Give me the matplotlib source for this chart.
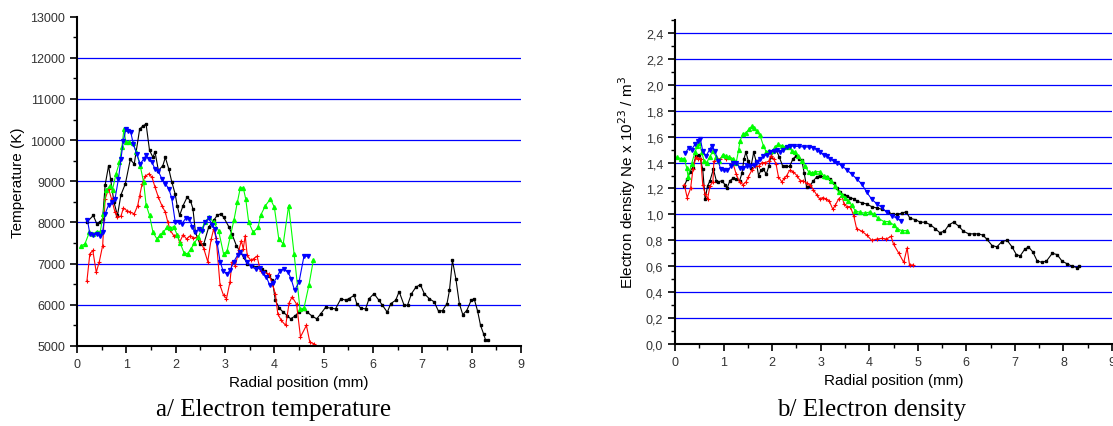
import numpy as np
import matplotlib
matplotlib.use('Agg')
import matplotlib.pyplot as plt
from matplotlib.ticker import MultipleLocator, FuncFormatter

plt.rcParams['font.family'] = ['Liberation Sans', 'DejaVu Sans']

# ---- a/ electron temperature (K) vs radial position (mm)
t_black_x = [0.21, 0.33, 0.40, 0.47, 0.52, 0.57, 0.64, 0.68, 0.75, 0.82, 0.89, 0.98, 1.08, 1.16, 1.27, 1.34, 1.40, 1.47, 1.54, 1.58,
             1.65, 1.74, 1.79, 1.86, 1.92, 1.99, 2.03, 2.08, 2.15, 2.23, 2.30, 2.35, 2.40, 2.49, 2.57, 2.67, 2.77, 2.84, 2.91, 2.97,
             3.08, 3.14, 3.23, 3.31, 3.38, 3.45, 3.55, 3.65, 3.75, 3.82, 3.89, 3.96, 4.02, 4.10, 4.18, 4.26, 4.33, 4.41, 4.50, 4.60,
             4.67, 4.77, 4.86, 4.94, 5.04, 5.14, 5.24, 5.35, 5.45, 5.51, 5.62, 5.67, 5.75, 5.85, 5.92, 6.02, 6.12, 6.19, 6.29, 6.36,
             6.46, 6.53, 6.63, 6.70, 6.78, 6.87, 6.96, 7.04, 7.14, 7.24, 7.33, 7.41, 7.50, 7.55, 7.61, 7.68, 7.75, 7.82, 7.90, 7.99,
             8.05, 8.12, 8.18, 8.24, 8.28, 8.33]
t_black_y = [8020, 8170, 7970, 8020, 8090, 8910, 9380, 9060, 8490, 8170, 8670, 8940, 9530, 9420, 10270, 10350, 10390, 9750, 9580, 9720,
             9260, 9380, 9580, 9300, 8990, 8690, 8410, 8170, 8410, 8610, 8530, 8330, 7760, 7480, 7480, 7890, 8050, 8170, 8210, 8130,
             7890, 7720, 7440, 7280, 7150, 7000, 6950, 6920, 6860, 6810, 6700, 6600, 6110, 5920, 5820, 5740, 5660, 5720, 5830, 5910,
             5820, 5720, 5660, 5780, 5940, 5920, 5900, 6150, 6110, 6150, 6230, 6030, 5920, 5900, 6150, 6270, 6110, 5990, 5820, 6030,
             6110, 6320, 5990, 5990, 6270, 6430, 6490, 6270, 6150, 6070, 5840, 5860, 6030, 6350, 7080, 6630, 6030, 5760, 5860, 6110,
             6150, 5850, 5500, 5300, 5150, 5150]

t_red_x = [0.20, 0.26, 0.32, 0.39, 0.45, 0.52, 0.57, 0.64, 0.70, 0.77, 0.82, 0.89, 0.94, 1.01, 1.08, 1.16, 1.23, 1.27, 1.32, 1.38,
           1.45, 1.52, 1.58, 1.65, 1.72, 1.79, 1.84, 1.89, 1.96, 2.03, 2.08, 2.15, 2.22, 2.30, 2.36, 2.43, 2.50, 2.57, 2.65, 2.72,
           2.77, 2.82, 2.90, 2.97, 3.03, 3.10, 3.14, 3.21, 3.28, 3.33, 3.37, 3.41, 3.45, 3.52, 3.58, 3.65, 3.72, 3.80, 3.89, 3.96,
           4.02, 4.07, 4.14, 4.23, 4.30, 4.36, 4.45, 4.53, 4.65, 4.72, 4.81]
t_red_y = [6570, 7240, 7320, 6790, 7040, 7440, 8570, 8820, 8570, 8250, 8130, 8150, 8350, 8290, 8250, 8210, 8410, 8650, 8940, 9120,
           9180, 9100, 8860, 8610, 8410, 8250, 8010, 7810, 7680, 7700, 7520, 7700, 7600, 7680, 7620, 7640, 7560, 7360, 7050, 7600,
           7840, 7620, 6470, 6230, 6150, 6550, 7040, 6950, 7320, 7560, 7360, 7680, 7200, 7080, 7120, 7180, 6810, 6790, 6750, 6510,
           6270, 5780, 5620, 5500, 6050, 6190, 6020, 5220, 5500, 5090, 5050]

t_green_x = [0.08, 0.16, 0.25, 0.33, 0.40, 0.47, 0.53, 0.59, 0.66, 0.72, 0.79, 0.86, 0.91, 0.95, 0.99, 1.06, 1.13, 1.20, 1.28, 1.35,
             1.40, 1.47, 1.54, 1.62, 1.69, 1.75, 1.82, 1.89, 1.96, 2.03, 2.09, 2.17, 2.24, 2.31, 2.38, 2.46, 2.53, 2.60, 2.67, 2.77,
             2.87, 2.97, 3.04, 3.11, 3.18, 3.25, 3.31, 3.37, 3.42, 3.48, 3.57, 3.67, 3.72, 3.82, 3.92, 4.00, 4.09, 4.18, 4.29, 4.40,
             4.52, 4.60, 4.70, 4.79]
t_green_y = [7430, 7480, 7760, 7720, 7780, 7760, 8210, 8780, 8880, 8800, 9180, 9460, 9830, 10260, 9950, 9950, 9930, 9710, 9380, 8980,
             8430, 8170, 7760, 7600, 7700, 7760, 7880, 7860, 7900, 7700, 7500, 7260, 7240, 7360, 7500, 7650, 7850, 8010, 8130, 8010,
             7800, 7240, 7300, 7680, 8050, 8490, 8840, 8840, 8570, 8010, 7760, 7880, 8170, 8410, 8570, 8370, 7600, 7480, 8410, 7240,
             5900, 5920, 6470, 7080]

t_blue_x = [0.21, 0.26, 0.33, 0.40, 0.47, 0.52, 0.57, 0.64, 0.70, 0.77, 0.84, 0.89, 0.94, 0.99, 1.04, 1.09, 1.14, 1.21, 1.28, 1.35,
            1.40, 1.45, 1.52, 1.58, 1.65, 1.72, 1.79, 1.86, 1.92, 1.99, 2.06, 2.13, 2.20, 2.27, 2.34, 2.40, 2.47, 2.54, 2.60, 2.67,
            2.74, 2.79, 2.84, 2.90, 2.96, 3.04, 3.11, 3.18, 3.26, 3.31, 3.38, 3.45, 3.52, 3.62, 3.70, 3.77, 3.84, 3.91, 3.98, 4.05,
            4.11, 4.19, 4.28, 4.34, 4.41, 4.50, 4.60, 4.68]
t_blue_y = [8070, 7720, 7700, 7720, 7680, 7780, 8210, 8430, 8490, 8570, 9060, 9540, 9990, 10260, 10230, 10190, 9910, 9670, 9420, 9540,
            9630, 9540, 9460, 9300, 9240, 9060, 8940, 8820, 8590, 8020, 8010, 7970, 8100, 8090, 7890, 7760, 7850, 7800, 8020, 8100,
            7950, 7850, 7500, 7050, 6830, 6750, 6850, 7050, 7220, 7290, 7180, 7040, 6940, 6870, 6890, 6780, 6670, 6470, 6530, 6670,
            6810, 6870, 6790, 6630, 6350, 6550, 7180, 7180]

# ---- b/ electron density (x 10^23 m^-3) vs radial position (mm)
n_black_x = [0.19, 0.25, 0.31, 0.36, 0.43, 0.50, 0.57, 0.62, 0.67, 0.72, 0.79, 0.85, 0.89, 0.96, 1.03, 1.07, 1.13, 1.20, 1.26, 1.33,
             1.38, 1.42, 1.46, 1.51, 1.56, 1.62, 1.67, 1.72, 1.77, 1.82, 1.88, 1.93, 1.97, 2.03, 2.08, 2.15, 2.22, 2.29, 2.36, 2.43,
             2.49, 2.56, 2.61, 2.66, 2.71, 2.78, 2.85, 2.92, 2.99, 3.06, 3.13, 3.20, 3.27, 3.33, 3.40, 3.47, 3.54, 3.61, 3.68, 3.75,
             3.85, 3.95, 4.05, 4.15, 4.26, 4.38, 4.49, 4.57, 4.67, 4.76, 4.84, 4.95, 5.05, 5.15, 5.26, 5.36, 5.45, 5.55, 5.64, 5.74,
             5.84, 5.94, 6.05, 6.15, 6.25, 6.34, 6.42, 6.53, 6.63, 6.73, 6.84, 6.94, 7.03, 7.11, 7.20, 7.28, 7.37, 7.46, 7.56, 7.65,
             7.77, 7.87, 7.97, 8.07, 8.18, 8.28, 8.33]
n_black_y = [1.22, 1.27, 1.33, 1.36, 1.45, 1.46, 1.35, 1.12, 1.22, 1.26, 1.35, 1.26, 1.25, 1.26, 1.23, 1.20, 1.26, 1.28, 1.27, 1.26,
             1.32, 1.43, 1.48, 1.41, 1.36, 1.48, 1.41, 1.30, 1.34, 1.35, 1.31, 1.37, 1.44, 1.49, 1.50, 1.44, 1.37, 1.37, 1.37, 1.43,
             1.45, 1.43, 1.42, 1.32, 1.21, 1.22, 1.26, 1.29, 1.30, 1.29, 1.29, 1.27, 1.24, 1.20, 1.17, 1.15, 1.14, 1.13, 1.12, 1.10,
             1.09, 1.08, 1.06, 1.05, 1.04, 1.02, 1.00, 1.00, 1.01, 1.02, 0.97, 0.96, 0.94, 0.94, 0.92, 0.89, 0.86, 0.87, 0.92, 0.94,
             0.91, 0.87, 0.85, 0.85, 0.85, 0.84, 0.81, 0.76, 0.75, 0.79, 0.80, 0.75, 0.69, 0.68, 0.73, 0.75, 0.71, 0.64, 0.63, 0.64,
             0.70, 0.69, 0.64, 0.62, 0.60, 0.59, 0.60]

n_red_x = [0.19, 0.25, 0.32, 0.37, 0.43, 0.48, 0.53, 0.57, 0.62, 0.67, 0.72, 0.78, 0.80, 0.86, 0.93, 1.00, 1.05, 1.12, 1.19, 1.26,
           1.33, 1.40, 1.46, 1.51, 1.58, 1.65, 1.72, 1.79, 1.86, 1.93, 1.97, 2.03, 2.08, 2.13, 2.20, 2.25, 2.30, 2.36, 2.43, 2.51,
           2.58, 2.64, 2.71, 2.78, 2.85, 2.92, 2.98, 3.04, 3.11, 3.18, 3.25, 3.30, 3.37, 3.44, 3.48, 3.54, 3.61, 3.68, 3.74, 3.85,
           3.95, 4.05, 4.16, 4.26, 4.35, 4.45, 4.50, 4.61, 4.71, 4.78, 4.83, 4.91]
n_red_y = [1.23, 1.13, 1.20, 1.35, 1.44, 1.43, 1.43, 1.23, 1.16, 1.12, 1.22, 1.25, 1.41, 1.43, 1.43, 1.45, 1.43, 1.44, 1.40, 1.31,
           1.25, 1.23, 1.25, 1.29, 1.34, 1.37, 1.37, 1.40, 1.40, 1.41, 1.45, 1.43, 1.39, 1.29, 1.25, 1.28, 1.30, 1.34, 1.33, 1.30,
           1.26, 1.26, 1.24, 1.23, 1.19, 1.15, 1.12, 1.13, 1.12, 1.10, 1.04, 1.07, 1.12, 1.14, 1.08, 1.06, 1.06, 0.99, 0.89, 0.87,
           0.84, 0.80, 0.81, 0.815, 0.81, 0.83, 0.77, 0.70, 0.63, 0.74, 0.61, 0.61]

n_green_x = [0.05, 0.12, 0.19, 0.24, 0.27, 0.34, 0.41, 0.46, 0.50, 0.55, 0.60, 0.65, 0.71, 0.78, 0.85, 0.91, 0.98, 1.05, 1.12, 1.19,
             1.26, 1.31, 1.34, 1.40, 1.46, 1.53, 1.58, 1.63, 1.68, 1.75, 1.82, 1.88, 1.94, 2.01, 2.06, 2.13, 2.20, 2.27, 2.34, 2.41,
             2.47, 2.54, 2.61, 2.68, 2.75, 2.82, 2.89, 2.98, 3.06, 3.13, 3.21, 3.30, 3.37, 3.44, 3.51, 3.57, 3.64, 3.71, 3.81, 3.92,
             4.02, 4.09, 4.19, 4.30, 4.40, 4.50, 4.57, 4.67, 4.77]
n_green_y = [1.44, 1.43, 1.43, 1.36, 1.29, 1.39, 1.48, 1.53, 1.55, 1.48, 1.41, 1.40, 1.44, 1.49, 1.44, 1.41, 1.46, 1.45, 1.44, 1.43,
             1.40, 1.50, 1.57, 1.62, 1.63, 1.66, 1.68, 1.67, 1.64, 1.61, 1.53, 1.48, 1.49, 1.49, 1.52, 1.54, 1.53, 1.52, 1.52, 1.49,
             1.48, 1.45, 1.41, 1.37, 1.33, 1.32, 1.33, 1.33, 1.30, 1.285, 1.26, 1.22, 1.17, 1.15, 1.13, 1.105, 1.07, 1.03, 1.015, 1.01,
             1.02, 1.00, 0.97, 0.945, 0.945, 0.92, 0.89, 0.875, 0.875]

n_blue_x = [0.21, 0.28, 0.34, 0.41, 0.48, 0.52, 0.57, 0.64, 0.71, 0.76, 0.82, 0.89, 0.94, 1.01, 1.08, 1.15, 1.20, 1.26, 1.34, 1.41,
            1.48, 1.55, 1.62, 1.68, 1.75, 1.82, 1.89, 1.96, 2.03, 2.10, 2.16, 2.23, 2.30, 2.37, 2.45, 2.55, 2.65, 2.75, 2.85, 2.92,
            2.99, 3.06, 3.13, 3.20, 3.27, 3.33, 3.44, 3.54, 3.64, 3.75, 3.85, 3.95, 4.05, 4.16, 4.26, 4.36, 4.47, 4.57, 4.66]
n_blue_y = [1.47, 1.515, 1.50, 1.54, 1.57, 1.585, 1.49, 1.45, 1.50, 1.53, 1.49, 1.41, 1.35, 1.34, 1.34, 1.37, 1.40, 1.40, 1.36, 1.36,
            1.37, 1.37, 1.38, 1.405, 1.43, 1.45, 1.46, 1.48, 1.49, 1.50, 1.48, 1.50, 1.52, 1.53, 1.525, 1.525, 1.52, 1.52, 1.515, 1.50,
            1.48, 1.46, 1.45, 1.43, 1.41, 1.40, 1.374, 1.344, 1.31, 1.272, 1.233, 1.17, 1.118, 1.08, 1.054, 1.015, 0.99, 0.97, 0.95]

t_ticks = [5000, 6000, 7000, 8000, 9000, 10000, 11000, 12000, 13000]
n_ticks = [0.0, 0.2, 0.4, 0.6, 0.8, 1.0, 1.2, 1.4, 1.6, 1.8, 2.0, 2.2, 2.4]

styles = {'black': dict(color='black', marker='s', ms=1.8),
          'red': dict(color='red', marker='+', ms=3.0, mew=0.8),
          'green': dict(color='#00ff00', marker='^', ms=2.8),
          'blue': dict(color='blue', marker='v', ms=2.8)}


def setup(ax, ticks, grid):
    for s in ['top', 'right']:
        ax.spines[s].set_visible(False)
    for s in ['left', 'bottom']:
        ax.spines[s].set_linewidth(1.5)
    ax.set_xlim(0, 9)
    ax.set_xticks(range(10))
    ax.xaxis.set_minor_locator(MultipleLocator(0.5))
    ax.set_yticks(ticks)
    ax.tick_params(which='major', direction='out', length=5, width=1.2, labelsize=9,
                   labelcolor='#333333')
    ax.tick_params(which='minor', direction='out', length=3, width=1.0)
    for v in grid:
        ax.axhline(v, color='blue', lw=0.9, zorder=0)
    ax.set_xlabel('Radial position (mm)', fontsize=11, labelpad=4)


fig = plt.figure(figsize=(11.13, 4.27), dpi=100)

ax1 = fig.add_axes([0.0692, 0.1874, 0.3989, 0.7714])
setup(ax1, t_ticks, t_ticks[1:-1])
ax1.set_ylim(5000, 13000)
ax1.yaxis.set_minor_locator(MultipleLocator(500))
for c, xs, ys in [('black', t_black_x, t_black_y), ('red', t_red_x, t_red_y),
                  ('green', t_green_x, t_green_y), ('blue', t_blue_x, t_blue_y)]:
    ax1.plot(xs, ys, lw=0.8, **styles[c])
ax1.set_ylabel('Temperature (K)', fontsize=11, labelpad=4)

ax2 = fig.add_axes([0.6065, 0.1920, 0.3926, 0.7588])
setup(ax2, n_ticks, n_ticks[1:])
ax2.set_ylim(0, 2.5)
ax2.yaxis.set_minor_locator(MultipleLocator(0.1))
ax2.yaxis.set_major_formatter(FuncFormatter(lambda v, p: f'{v:.1f}'.replace('.', ',')))
for c, xs, ys in [('black', n_black_x, n_black_y), ('red', n_red_x, n_red_y),
                  ('green', n_green_x, n_green_y), ('blue', n_blue_x, n_blue_y)]:
    ax2.plot(xs, ys, lw=0.8, **styles[c])
ax2.set_ylabel('Electron density Ne x 10$^{23}$ / m$^3$', fontsize=11, labelpad=6)

fig.text(0.246, 0.025, 'a/ Electron temperature', fontsize=18, family='Liberation Serif', ha='center')
fig.text(0.783, 0.025, 'b/ Electron density', fontsize=18, family='Liberation Serif', ha='center')

fig.savefig('out.png', dpi=100)
